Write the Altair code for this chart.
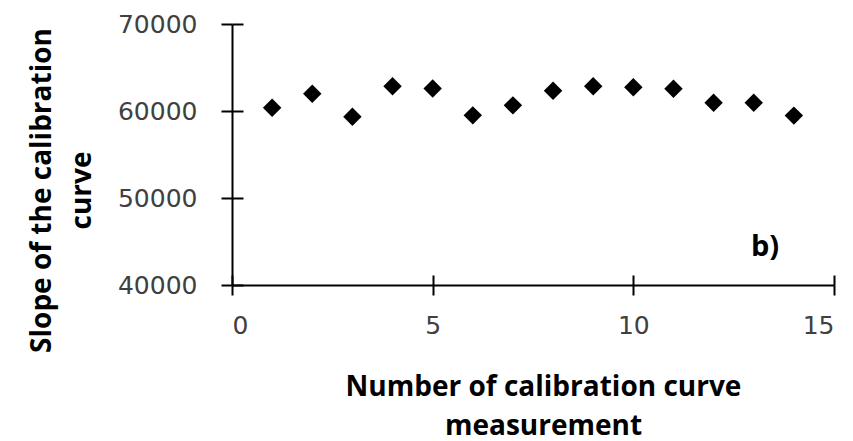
import altair as alt
import pandas as pd

measurement = [1, 2, 3, 4, 5, 6, 7, 8, 9, 10, 11, 12, 13, 14]
slope = [60380, 61980, 59350, 62850, 62590, 59500, 60650, 62320, 62850, 62740, 62550, 60950, 60950, 59470]

x_ticks = [0, 5, 10, 15]
y_ticks = [40000, 50000, 60000, 70000]

label_text = ["b)"]
label_x = [13.28]
label_y = [44370]

W, H = 602, 261
LEFT, TOP = 232, 24

df = pd.DataFrame({"x": measurement, "y": slope})
lab = pd.DataFrame({"x": label_x, "y": label_y, "t": label_text})

xscale = alt.Scale(domain=[0, 15], nice=False, zero=False)
yscale = alt.Scale(domain=[40000, 70000], nice=False, zero=False)

common_axis = dict(grid=False, domainColor="black", tickColor="black",
                   domainWidth=2, tickWidth=2)

points = alt.Chart(df).mark_point(
    shape="diamond", filled=True, color="black", size=340, opacity=1
).encode(
    x=alt.X("x:Q", scale=xscale, axis=alt.Axis(
        values=x_ticks, tickSize=10, labelPadding=18.5,
        labelFont="DejaVu Sans", labelFontSize=25, labelColor="#404040",
        title=["Number of calibration curve", "measurement"],
        titleFont="Open Sans", titleFontSize=28, titleFontWeight="bold",
        titleColor="black", titleLineHeight=39,
        titleX=311, titleY=102, titleAlign="center", titleBaseline="middle",
        titleAnchor="middle", **common_axis)),
    y=alt.Y("y:Q", scale=yscale, axis=alt.Axis(
        values=y_ticks, format="d", tickSize=11, labelPadding=24,
        labelFont="DejaVu Sans", labelFontSize=25, labelColor="#404040",
        title=["Slope of the calibration", "curve"],
        titleFont="Open Sans", titleFontSize=28, titleFontWeight="bold",
        titleColor="black", titleLineHeight=40, titleAngle=270,
        titleX=-190, titleY=166, titleAlign="center", titleBaseline="middle",
        **common_axis)),
)

label = alt.Chart(lab).mark_text(
    font="Open Sans", fontSize=29, fontWeight="bold", color="black",
    align="center", baseline="middle"
).encode(
    x=alt.X("x:Q", scale=xscale, axis=alt.Axis(
        orient="top", offset=-H, values=x_ticks, tickSize=10,
        labels=False, domain=False, title=None, **common_axis)),
    y=alt.Y("y:Q", scale=yscale, axis=alt.Axis(
        orient="right", offset=-W, values=y_ticks, tickSize=11,
        labels=False, domain=False, title=None, **common_axis)),
    text="t:N",
)

chart = alt.layer(points, label).resolve_axis(
    x="independent", y="independent"
).properties(
    width=W, height=H,
    autosize=alt.AutoSizeParams(type="none"),
    padding={"left": LEFT, "top": TOP, "right": 853 - LEFT - W, "bottom": 441 - TOP - H},
    background="white",
).configure_view(stroke=None)

chart.save("out.html", embed_options={"renderer": "svg", "actions": False})
